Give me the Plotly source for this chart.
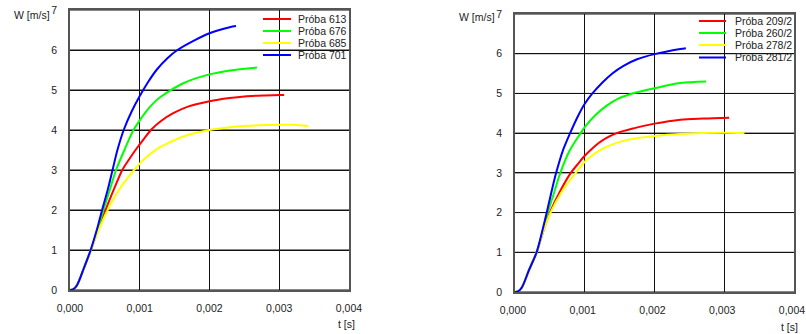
import plotly.graph_objects as go

# ---------------- data ----------------
left_names = ["Próba 613", "Próba 676", "Próba 685", "Próba 701"]
right_names = ["Próba 209/2", "Próba 260/2", "Próba 278/2", "Próba 281/2"]
colors = ["#ff0000", "#00ff00", "#ffff00", "#0000ff"]

# left panel
t_613 = [0, 0.00005, 0.0001, 0.0002, 0.0003, 0.0004, 0.00051, 0.00063, 0.00075, 0.00086, 0.00096, 0.00106, 0.00117, 0.0013, 0.00148, 0.0017, 0.002, 0.00229, 0.0025, 0.0028, 0.003, 0.00307]
w_613 = [0, 0.02, 0.12, 0.55, 1.0, 1.5, 2.0, 2.52, 3.0, 3.3, 3.55, 3.78, 4.02, 4.22, 4.42, 4.59, 4.72, 4.8, 4.84, 4.865, 4.875, 4.875]
t_676 = [0, 0.00005, 0.0001, 0.0002, 0.0003, 0.0004, 0.00048, 0.00057, 0.00066, 0.00078, 0.00091, 0.001, 0.00109, 0.00119, 0.0013, 0.00143, 0.0016, 0.0018, 0.002, 0.00229, 0.00268]
w_676 = [0, 0.02, 0.12, 0.55, 1.0, 1.52, 2.0, 2.5, 3.0, 3.5, 4.0, 4.24, 4.46, 4.66, 4.83, 4.98, 5.15, 5.29, 5.39, 5.49, 5.56]
t_685 = [0, 0.00005, 0.0001, 0.0002, 0.0003, 0.0004, 0.00054, 0.00072, 0.00092, 0.00105, 0.00118, 0.00129, 0.0014, 0.0015, 0.0017, 0.002, 0.00229, 0.0025, 0.003, 0.0032, 0.00342]
w_685 = [0, 0.02, 0.12, 0.55, 1.0, 1.45, 2.0, 2.55, 3.0, 3.25, 3.44, 3.57, 3.67, 3.75, 3.88, 4.0, 4.07, 4.1, 4.13, 4.13, 4.1]
t_701 = [0, 0.00005, 0.0001, 0.0002, 0.0003, 0.0004, 0.00046, 0.00054, 0.00061, 0.00068, 0.00077, 0.00088, 0.001, 0.00112, 0.00124, 0.0014, 0.00154, 0.00177, 0.002, 0.00229, 0.00238]
w_701 = [0, 0.02, 0.12, 0.55, 1.02, 1.6, 2.0, 2.5, 3.0, 3.5, 4.0, 4.45, 4.85, 5.2, 5.5, 5.8, 6.0, 6.23, 6.42, 6.57, 6.6]

# right panel
t_209 = [0, 0.00005, 0.0001, 0.0002, 0.00031, 0.0004, 0.0005, 0.00065, 0.0008, 0.0009, 0.001, 0.0011, 0.0012, 0.0013, 0.00146, 0.0017, 0.002, 0.00237, 0.0027, 0.00307]
w_209 = [0, 0.02, 0.12, 0.55, 1.0, 1.5, 2.0, 2.55, 3.0, 3.22, 3.43, 3.6, 3.75, 3.87, 4.0, 4.12, 4.24, 4.34, 4.37, 4.39]
t_260 = [0, 0.00005, 0.0001, 0.0002, 0.00031, 0.0004, 0.00047, 0.00056, 0.00065, 0.00078, 0.00093, 0.001, 0.00115, 0.00132, 0.00148, 0.00165, 0.002, 0.00237, 0.00274]
w_260 = [0, 0.02, 0.12, 0.55, 1.0, 1.55, 2.0, 2.5, 3.0, 3.55, 3.97, 4.15, 4.45, 4.7, 4.87, 4.98, 5.13, 5.26, 5.3]
t_278 = [0, 0.00005, 0.0001, 0.0002, 0.00031, 0.0004, 0.00051, 0.00068, 0.00087, 0.001, 0.0011, 0.00122, 0.00132, 0.0015, 0.0017, 0.002, 0.00237, 0.003, 0.00329]
w_278 = [0, 0.02, 0.12, 0.55, 1.0, 1.5, 2.0, 2.55, 3.0, 3.28, 3.43, 3.57, 3.66, 3.78, 3.86, 3.93, 3.98, 4.01, 4.0]
t_281 = [0, 0.00005, 0.0001, 0.0002, 0.00031, 0.0004, 0.000455, 0.00052, 0.00059, 0.00069, 0.00079, 0.0009, 0.001, 0.00111, 0.00125, 0.0014, 0.00155, 0.00175, 0.002, 0.00237, 0.00245]
w_281 = [0, 0.02, 0.12, 0.55, 1.0, 1.6, 2.0, 2.5, 3.0, 3.58, 4.0, 4.42, 4.74, 5.0, 5.27, 5.51, 5.69, 5.86, 5.99, 6.12, 6.14]

x_ticks = [0, 0.001, 0.002, 0.003, 0.004]
y_ticks = [0, 1, 2, 3, 4, 5, 6, 7]
y_title = "W [m/s]"
x_title = "t [s]"

left_series = [(t_613, w_613), (t_676, w_676), (t_685, w_685), (t_701, w_701)]
right_series = [(t_209, w_209), (t_260, w_260), (t_278, w_278), (t_281, w_281)]

# ---------------- figure ----------------
W, H = 806, 334
FONT = "Liberation Sans, Arial, sans-serif"
FS = 10.5
TXT = "#222222"
GRID = "#111111"

def px(x):
    return x / W

def py(y):
    return 1 - y / H

fig = go.Figure()
for (t, w), name, c in zip(left_series, left_names, colors):
    fig.add_trace(go.Scatter(x=t, y=w, name=name, mode="lines",
                             line=dict(color=c, width=2, shape="spline", smoothing=0.9),
                             xaxis="x", yaxis="y", showlegend=False))
for (t, w), name, c in zip(right_series, right_names, colors):
    fig.add_trace(go.Scatter(x=t, y=w, name=name, mode="lines",
                             line=dict(color=c, width=2, shape="spline", smoothing=0.9),
                             xaxis="x2", yaxis="y2", showlegend=False))

def xaxis_cfg(domain, anchor, shift=0):
    return dict(domain=domain, anchor=anchor, range=[0, 0.004], tickvals=x_ticks,
                tickformat=".3f", showgrid=True, gridcolor=GRID, gridwidth=1,
                zeroline=False, showline=True, linecolor="#555555", linewidth=1.5,
                mirror=True, ticks="outside", ticklen=8, tickcolor="rgba(0,0,0,0)",
                automargin=False, ticklabeloverflow="allow", ticklabelshift=shift,
                tickfont=dict(family=FONT, size=FS, color=TXT))

def yaxis_cfg(domain, anchor):
    return dict(domain=domain, anchor=anchor, range=[0, 7], tickvals=y_ticks,
                showgrid=True, gridcolor=GRID, gridwidth=1,
                zeroline=False, showline=True, linecolor="#555555", linewidth=1.5,
                mirror=True, ticks="outside", ticklen=9, tickcolor="rgba(0,0,0,0)",
                automargin=False, ticklabeloverflow="allow",
                tickfont=dict(family=FONT, size=FS, color=TXT))

fig.update_layout(
    width=W, height=H,
    margin=dict(l=0, r=0, t=0, b=0, autoexpand=False),
    paper_bgcolor="white", plot_bgcolor="white",
    separators=",.",
    font=dict(family=FONT, size=FS, color=TXT),
    xaxis=xaxis_cfg([px(70), px(349)], "y"),
    yaxis=yaxis_cfg([py(290), py(10)], "x"),
    xaxis2=xaxis_cfg([px(515), px(794)], "y2", shift=-2),
    yaxis2=yaxis_cfg([py(292), py(14)], "x2"),
)

annotations = []
shapes = []

# horizontal grid lines at the y ticks (drawn in data coordinates)
for xr, yr in [("x domain", "y"), ("x2 domain", "y2")]:
    for v in y_ticks:
        shapes.append(dict(type="line", xref=xr, yref=yr, x0=0, x1=1, y0=v, y1=v,
                           line=dict(color=GRID, width=1), layer="below"))

# axis titles
for (x, y, txt) in [(12, 15, y_title), (457, 17, y_title), (336, 324, x_title), (779, 327, x_title)]:
    annotations.append(dict(x=px(x), y=py(y), xref="paper", yref="paper", text=txt,
                            showarrow=False, xanchor="left", yanchor="middle",
                            font=dict(family=FONT, size=FS, color=TXT)))

# legends (drawn inside plot areas, top right)
def add_legend(names, x_line0, x_line1, x_text, rows):
    for name, c, yy in zip(names, colors, rows):
        shapes.append(dict(type="line", xref="paper", yref="paper",
                           x0=px(x_line0), x1=px(x_line1), y0=py(yy), y1=py(yy),
                           line=dict(color=c, width=2)))
        annotations.append(dict(x=px(x_text), y=py(yy), xref="paper", yref="paper",
                                text=name, showarrow=False, xanchor="left", yanchor="middle",
                                font=dict(family=FONT, size=FS, color=TXT)))

add_legend(left_names, 263, 291, 296, [19, 31, 43, 55])
add_legend(right_names, 699, 726, 733, [21, 33, 45, 57.5])

fig.update_layout(annotations=annotations, shapes=shapes)
fig.write_html("out.html")
